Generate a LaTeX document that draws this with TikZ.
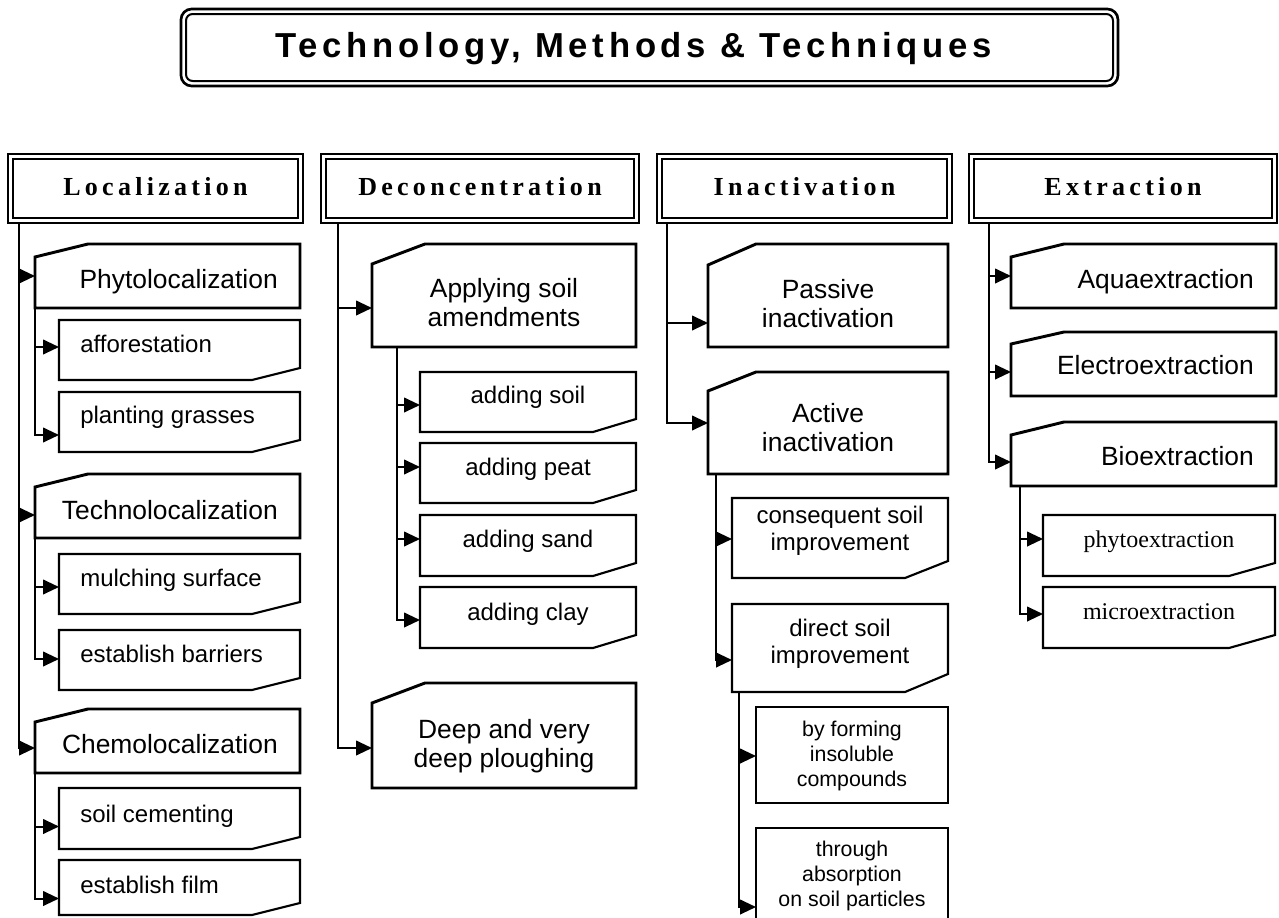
\documentclass[tikz,border=0pt]{standalone}
\usepackage{fontspec}
\setmainfont{Liberation Serif}
\newfontfamily\arialf{Liberation Sans}
\newfontfamily\titlef[LetterSpace=13.5]{Liberation Sans}
\newfontfamily\headf[LetterSpace=16.5]{Liberation Serif}
\usetikzlibrary{arrows.meta,calc,fit}

\newcommand\topbox[8]{%
  \node[frame, fit={(#2,#3)(#4,#5)}] (#1) {};
  \draw[#8] ($(#1.north west)+(0,#7)$) -- ($(#1.north west)+(#6,0)$) -- (#1.north east) -- (#1.south east) -- (#1.south west) -- cycle;}
\newcommand\botbox[8]{%
  \node[frame, fit={(#2,#3)(#4,#5)}] (#1) {};
  \draw[#8] (#1.north west) -- (#1.north east) -- ($(#1.south east)+(0,-#7)$) -- ($(#1.south east)+(-#6,0)$) -- (#1.south west) -- cycle;}
\newcommand\header[4]{%
  \node[frame, fit={(#2,154)(#3,223)}] (#1) {};
  \draw[line width=2pt] (#1.north west) rectangle (#1.south east);
  \draw[line width=1.1pt] ($(#1.north west)+(5,5)$) rectangle ($(#1.south east)+(-5,-5)$);
  \node[htext, anchor=base] (#1-t) at ($(#1.north)+(0,41)$) {#4};}

\begin{document}
\begin{tikzpicture}[x=0.75pt,y=-0.75pt,
  frame/.style={inner sep=0pt,outer sep=0pt},
  conn/.style={line width=1.5pt,-{Triangle[length=12pt,width=11pt]}},
  mainline/.style={line width=2.2pt},
  subline/.style={line width=1.6pt},
  thinline/.style={line width=1.2pt},
  mtext/.style={font=\arialf\fontsize{19.8}{21.75}\selectfont, inner sep=0pt, align=center},
  stext/.style={font=\arialf\fontsize{18}{20.25}\selectfont, inner sep=0pt, align=center},
  xtext/.style={font=\arialf\fontsize{16}{18.4}\selectfont, inner sep=0pt, align=center},
  rtext/.style={font=\fontsize{18}{20}\selectfont, inner sep=0pt},
  htext/.style={font=\headf\bfseries\fontsize{19.5}{20}\selectfont, inner sep=0pt},
  ttext/.style={font=\titlef\bfseries\fontsize{26}{28}\selectfont, inner sep=0pt}]
\useasboundingbox (0,0) rectangle (1279,918);

% title
\node[frame, fit={(181,9)(1118,86)}] (title) {};
\draw[line width=2pt, rounded corners=8pt] (title.north west) rectangle (title.south east);
\draw[line width=1.5pt, rounded corners=5pt] ($(title.north west)+(5,5)$) rectangle ($(title.south east)+(-5,-5)$);
\node[ttext, anchor=base west] (title-t) at (275,57) {Technology, Methods \& Techniques};

% headers
\header{loc}{8}{303}{Localization}
\header{dec}{321}{639}{Deconcentration}
\header{ina}{657}{952}{Inactivation}
\header{ext}{969}{1277}{Extraction}

% Localization
\topbox{phyto}{35}{244}{300}{308}{53}{13}{mainline}
\botbox{affo}{59}{320}{300}{380}{48}{12}{subline}
\botbox{plant}{59}{392}{300}{452}{48}{12}{subline}
\topbox{techno}{35}{474}{300}{538}{53}{13}{mainline}
\botbox{mulch}{59}{554}{300}{614}{48}{12}{subline}
\botbox{barr}{59}{630}{300}{690}{48}{12}{subline}
\topbox{chemo}{35}{709}{300}{773}{53}{13}{mainline}
\botbox{cement}{59}{788}{300}{849}{48}{12}{subline}
\botbox{film}{59}{860}{300}{915}{48}{12}{subline}

\node[mtext, anchor=base east] (phyto-t) at (278,288) {Phytolocalization};
\node[mtext, anchor=base east] (techno-t) at (278,519) {Technolocalization};
\node[mtext, anchor=base east] (chemo-t) at (278,753) {Chemolocalization};
\node[stext, anchor=base west] (affo-t) at (80,352) {afforestation};
\node[stext, anchor=base west] (plant-t) at (80,423) {planting grasses};
\node[stext, anchor=base west] (mulch-t) at (80,586) {mulching surface};
\node[stext, anchor=base west] (barr-t) at (80,662) {establish barriers};
\node[stext, anchor=base west] (cement-t) at (80,822) {soil cementing};
\node[stext, anchor=base west] (film-t) at (80,893) {establish film};

\coordinate (Lt) at ($(loc.south west)+(11,0)$);
\draw[conn] (Lt) |- ($(chemo.west)+(0,7)$);
\draw[conn] (Lt |- phyto.west) -- (phyto.west);
\draw[conn] ($(Lt |- techno.west)+(0,9)$) -- ($(techno.west)+(0,9)$);
\draw[conn] (phyto.south west) |- ($(plant.west)+(0,13)$);
\draw[conn] ($(phyto.south west |- affo.west)+(0,-3)$) -- ($(affo.west)+(0,-3)$);
\draw[conn] (techno.south west) |- ($(barr.west)+(0,-1)$);
\draw[conn] ($(techno.south west |- mulch.west)+(0,3)$) -- ($(mulch.west)+(0,3)$);
\draw[conn] (chemo.south west) |- ($(film.west)+(0,11)$);
\draw[conn] ($(chemo.south west |- cement.west)+(0,8)$) -- ($(cement.west)+(0,8)$);

% Deconcentration
\topbox{apply}{372}{244}{636}{347}{53}{20}{mainline}
\botbox{asoil}{420}{372}{636}{432}{43}{13}{subline}
\botbox{apeat}{420}{443}{636}{503}{43}{13}{subline}
\botbox{asand}{420}{515}{636}{576}{43}{13}{subline}
\botbox{aclay}{420}{587}{636}{648}{43}{13}{subline}
\topbox{deep}{372}{683}{636}{788}{53}{20}{mainline}

\node[mtext, anchor=base] (apply-t) at (504,326) {Applying soil\\amendments};
\node[stext, anchor=base] (asoil-t) at (528,403) {adding soil};
\node[stext, anchor=base] (apeat-t) at (528,475) {adding peat};
\node[stext, anchor=base] (asand-t) at (528,547) {adding sand};
\node[stext, anchor=base] (aclay-t) at (528,620) {adding clay};
\node[mtext, anchor=base] (deep-t) at (504,767) {Deep and very\\deep ploughing};

\coordinate (Dt) at ($(dec.south west)+(17,0)$);
\draw[conn] (Dt) |- ($(deep.west)+(0,12.5)$);
\draw[conn] ($(Dt |- apply.west)+(0,12.5)$) -- ($(apply.west)+(0,12.5)$);
\coordinate (At) at ($(apply.south west)+(25,0)$);
\draw[conn] (At) |- ($(aclay.west)+(0,2.5)$);
\draw[conn] ($(At |- asoil.west)+(0,3)$) -- ($(asoil.west)+(0,3)$);
\draw[conn] ($(At |- apeat.west)+(0,-6)$) -- ($(apeat.west)+(0,-6)$);
\draw[conn] ($(At |- asand.west)+(0,-6.5)$) -- ($(asand.west)+(0,-6.5)$);

% Inactivation
\topbox{passive}{708}{244}{948}{347}{48}{21}{mainline}
\topbox{active}{708}{372}{948}{474}{48}{19}{mainline}
\botbox{conseq}{732}{498}{948}{578}{43}{17}{subline}
\botbox{direct}{732}{604}{948}{692}{43}{18}{subline}
\node[frame, draw, thinline, fit={(756,707)(948,803)}] (forming) {};
\node[frame, draw, thinline, fit={(756,828)(948,930)}] (through) {};

\node[mtext, anchor=base] (passive-t) at (828,327) {Passive\\inactivation};
\node[mtext, anchor=base] (active-t) at (828,451) {Active\\inactivation};
\node[stext, anchor=base] (conseq-t) at (840,550) {consequent soil\\improvement};
\node[stext, anchor=base] (direct-t) at (840,663) {direct soil\\improvement};
\node[xtext, anchor=base] (forming-t) at (852,786) {by forming\\insoluble\\compounds};
\node[xtext, anchor=base] (through-t) at (852,906) {through\\absorption\\on soil particles};

\coordinate (It) at ($(ina.south west)+(10,0)$);
\draw[conn] (It) |- (active.west);
\draw[conn] ($(It |- passive.west)+(0,27.5)$) -- ($(passive.west)+(0,27.5)$);
\coordinate (Ct) at ($(active.south west)+(8,0)$);
\draw[conn] (Ct) |- ($(direct.west)+(0,12)$);
\draw[conn] ($(Ct |- conseq.west)+(0,1)$) -- ($(conseq.west)+(0,1)$);
\coordinate (Ft) at ($(direct.south west)+(7,0)$);
\draw[conn] (Ft) |- ($(through.west)+(0,28)$);
\draw[conn] ($(Ft |- forming.west)+(0,1)$) -- ($(forming.west)+(0,1)$);

% Extraction
\topbox{aqua}{1011}{244}{1276}{308}{53}{13}{mainline}
\topbox{electro}{1011}{332}{1276}{396}{53}{12}{mainline}
\topbox{bio}{1011}{422}{1276}{486}{53}{13}{mainline}
\botbox{phytoex}{1043}{515}{1275}{576}{46}{13}{subline}
\botbox{microex}{1043}{587}{1275}{648}{46}{13}{subline}

\node[mtext, anchor=base east] (aqua-t) at (1254,288) {Aquaextraction};
\node[mtext, anchor=base east] (electro-t) at (1254,374) {Electroextraction};
\node[mtext, anchor=base east] (bio-t) at (1254,465) {Bioextraction};
\node[rtext, anchor=base] (phytoex-t) at (1159,547) {phytoextraction};
\node[rtext, anchor=base] (microex-t) at (1159,619) {microextraction};

\coordinate (Et) at ($(ext.south west)+(20,0)$);
\draw[conn] (Et) |- ($(bio.west)+(0,8)$);
\draw[conn] (Et |- aqua.west) -- (aqua.west);
\draw[conn] ($(Et |- electro.west)+(0,8)$) -- ($(electro.west)+(0,8)$);
\coordinate (Bt) at ($(bio.south west)+(9,0)$);
\draw[conn] (Bt) |- ($(microex.west)+(0,-3.5)$);
\draw[conn] ($(Bt |- phytoex.west)+(0,-6.5)$) -- ($(phytoex.west)+(0,-6.5)$);
\end{tikzpicture}
\end{document}
